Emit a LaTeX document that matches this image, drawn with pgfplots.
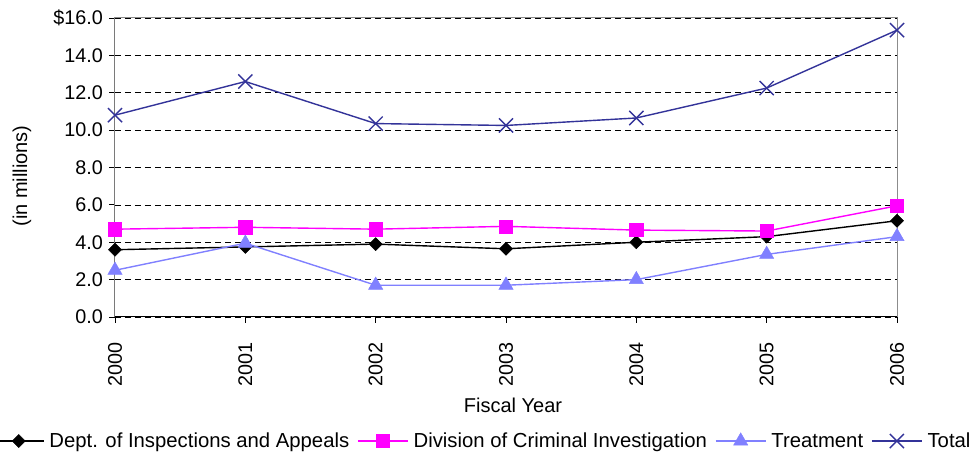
\documentclass[border=0pt]{standalone}
\usepackage{fontspec}
\setmainfont{Liberation Sans}
\usepackage{pgfplots}
\pgfplotsset{compat=1.18}
\definecolor{dept}{RGB}{0,0,0}
\definecolor{dci}{RGB}{255,0,255}
\definecolor{treat}{RGB}{128,128,255}
\definecolor{total}{RGB}{51,51,153}
\begin{document}
\begin{tikzpicture}[font=\fontsize{20}{24}\selectfont]
\useasboundingbox (0,0) rectangle (977pt,457pt);
\begin{axis}[
  at={(115pt,140pt)}, anchor=south west,
  scale only axis, width=782pt, height=299pt,
  xmin=2000, xmax=2006, ymin=0, ymax=16,
  xtick={2000,2001,2002,2003,2004,2005,2006},
  xticklabels={2000,2001,2002,2003,2004,2005,2006},
  ytick={0,2,4,6,8,10,12,14,16},
  yticklabels={0.0,2.0,4.0,6.0,8.0,10.0,12.0,14.0,\$16.0},
  /pgf/number format/assume math mode=true,
  tick align=outside, tick pos=left,
  major tick length=6pt,
  tick style={black, line width=0.8pt},
  axis line style={draw=gray!90, line width=1pt},
  ymajorgrids,
  major grid style={black, line width=0.7pt, dash pattern=on 6pt off 4pt},
  tick label style={font=\fontsize{19.8}{24}\selectfont},
  xticklabel style={rotate=90, anchor=east, inner sep=2pt, xshift=-17pt},
  yticklabel style={inner sep=2pt},
  yticklabel shift=4pt,
  xlabel={Fiscal Year},
  xlabel style={at={(axis description cs:0.509,-0.294)}, anchor=center},
  ylabel={(in millions)},
  ylabel style={at={(axis description cs:-0.119,0.472)}, anchor=center, rotate=0},
  legend columns=4,
  legend style={draw=none, fill=none, at={(0.4690,-0.4147)}, anchor=center,
    font=\fontsize{20.3}{24}\selectfont,
    nodes={inner sep=0pt},
    /tikz/every odd column/.style={column sep=5pt},
    /tikz/every even column/.style={column sep=8pt}},
  legend image code/.code={\draw[mark repeat=2,mark phase=2] plot coordinates {(0pt,0pt) (25pt,0pt) (50pt,0pt)};},
  every axis plot/.append style={line width=1.4pt},
]
\addplot[color=dept, mark=square*, mark size=4.6pt, mark options={rotate=45, fill=dept, line width=0.5pt}]
  coordinates {(2000,3.6) (2001,3.75) (2002,3.9) (2003,3.65) (2004,4.0) (2005,4.3) (2006,5.15)};
\addlegendentry{Dept. of Inspections and Appeals}
\addplot[color=dci, mark=square*, mark size=6.6pt, mark options={fill=dci, line width=0.5pt}]
  coordinates {(2000,4.7) (2001,4.8) (2002,4.7) (2003,4.85) (2004,4.65) (2005,4.6) (2006,5.95)};
\addlegendentry{Division of Criminal Investigation}
\addplot[color=treat, mark=triangle*, mark size=8.2pt, mark options={fill=treat, line width=0.5pt}]
  coordinates {(2000,2.5) (2001,3.95) (2002,1.7) (2003,1.7) (2004,2.0) (2005,3.35) (2006,4.3)};
\addlegendentry{Treatment}
\addplot[color=total, mark=x, mark size=10pt, mark options={line width=1.4pt}]
  coordinates {(2000,10.8) (2001,12.6) (2002,10.35) (2003,10.25) (2004,10.65) (2005,12.25) (2006,15.35)};
\addlegendentry{Total}
\draw[black, line width=1pt] (rel axis cs:0,1) -- (rel axis cs:0,0) -- (rel axis cs:1,0);
\end{axis}
\end{tikzpicture}
\end{document}
